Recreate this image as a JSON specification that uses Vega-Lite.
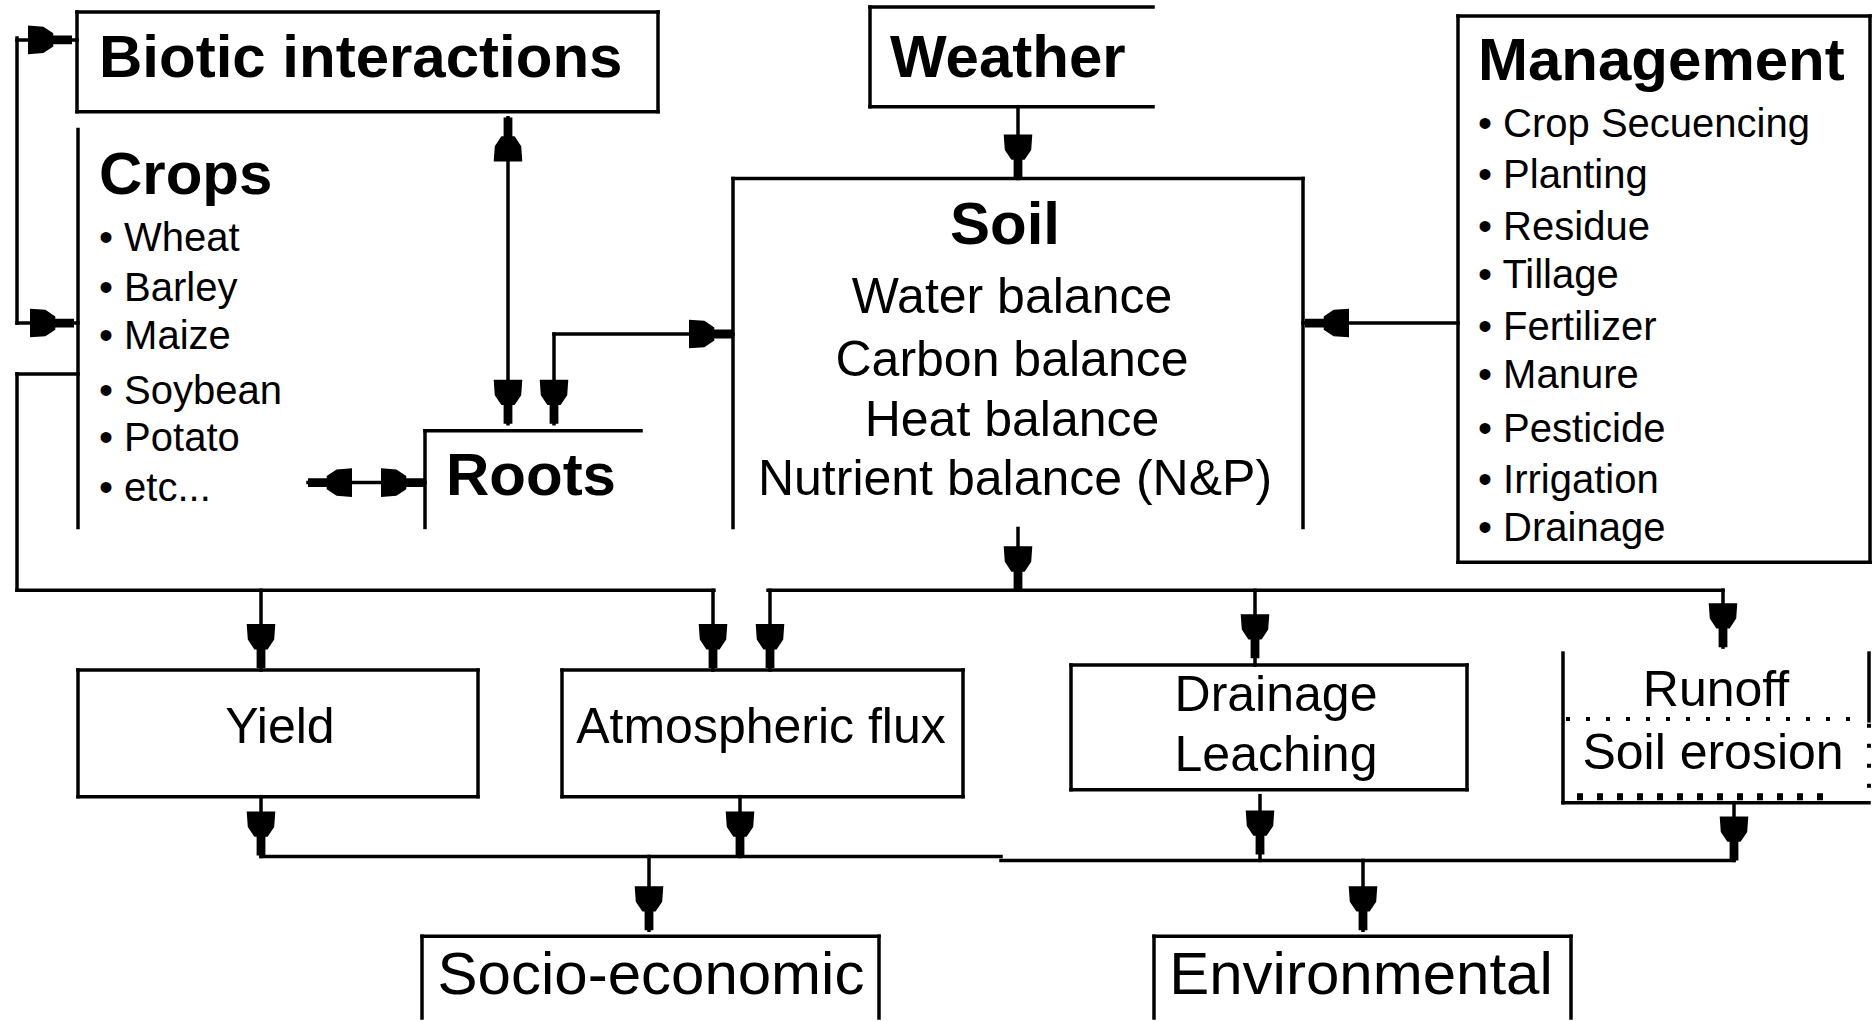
{
  "$schema": "https://vega.github.io/schema/vega-lite/v6.json",
  "width": 1874,
  "height": 1021,
  "padding": 0,
  "autosize": {"type": "fit", "contains": "padding"},
  "background": "white",
  "config": {"view": {"stroke": null}},
  "datasets": {
    "segments": [
      {"x1": 77, "y1": 12, "x2": 658, "y2": 12},
      {"x1": 658, "y1": 12, "x2": 658, "y2": 112},
      {"x1": 77, "y1": 112, "x2": 658, "y2": 112},
      {"x1": 77, "y1": 12, "x2": 77, "y2": 112},
      {"x1": 17, "y1": 38, "x2": 17, "y2": 324},
      {"x1": 17, "y1": 40, "x2": 77, "y2": 40},
      {"x1": 17, "y1": 324, "x2": 78, "y2": 324},
      {"x1": 17, "y1": 375, "x2": 78, "y2": 375},
      {"x1": 17, "y1": 375, "x2": 17, "y2": 592},
      {"x1": 17, "y1": 592, "x2": 714, "y2": 592},
      {"x1": 78, "y1": 130, "x2": 78, "y2": 529},
      {"x1": 508, "y1": 118, "x2": 508, "y2": 425},
      {"x1": 425, "y1": 432, "x2": 641, "y2": 432},
      {"x1": 425, "y1": 432, "x2": 425, "y2": 529},
      {"x1": 308, "y1": 484, "x2": 425, "y2": 484},
      {"x1": 554, "y1": 335, "x2": 733, "y2": 335},
      {"x1": 554, "y1": 335, "x2": 554, "y2": 425},
      {"x1": 870, "y1": 7, "x2": 1153, "y2": 7},
      {"x1": 870, "y1": 7, "x2": 870, "y2": 107},
      {"x1": 870, "y1": 107, "x2": 1153, "y2": 107},
      {"x1": 1018, "y1": 107, "x2": 1018, "y2": 179},
      {"x1": 733, "y1": 179, "x2": 1303, "y2": 179},
      {"x1": 733, "y1": 179, "x2": 733, "y2": 529},
      {"x1": 1303, "y1": 179, "x2": 1303, "y2": 529},
      {"x1": 1458, "y1": 16, "x2": 1870, "y2": 16},
      {"x1": 1870, "y1": 16, "x2": 1870, "y2": 564},
      {"x1": 1458, "y1": 564, "x2": 1870, "y2": 564},
      {"x1": 1458, "y1": 16, "x2": 1458, "y2": 564},
      {"x1": 1303, "y1": 324, "x2": 1458, "y2": 324},
      {"x1": 1018, "y1": 530, "x2": 1018, "y2": 592},
      {"x1": 768, "y1": 592, "x2": 1723, "y2": 592},
      {"x1": 261, "y1": 592, "x2": 261, "y2": 672},
      {"x1": 713, "y1": 592, "x2": 713, "y2": 672},
      {"x1": 770, "y1": 592, "x2": 770, "y2": 672},
      {"x1": 1255, "y1": 592, "x2": 1255, "y2": 667},
      {"x1": 1723, "y1": 592, "x2": 1723, "y2": 649},
      {"x1": 78, "y1": 672, "x2": 478, "y2": 672},
      {"x1": 478, "y1": 672, "x2": 478, "y2": 799},
      {"x1": 78, "y1": 799, "x2": 478, "y2": 799},
      {"x1": 78, "y1": 672, "x2": 78, "y2": 799},
      {"x1": 562, "y1": 672, "x2": 963, "y2": 672},
      {"x1": 963, "y1": 672, "x2": 963, "y2": 799},
      {"x1": 562, "y1": 799, "x2": 963, "y2": 799},
      {"x1": 562, "y1": 672, "x2": 562, "y2": 799},
      {"x1": 1071, "y1": 667, "x2": 1467, "y2": 667},
      {"x1": 1467, "y1": 667, "x2": 1467, "y2": 792},
      {"x1": 1071, "y1": 792, "x2": 1467, "y2": 792},
      {"x1": 1071, "y1": 667, "x2": 1071, "y2": 792},
      {"x1": 1563, "y1": 655, "x2": 1563, "y2": 805},
      {"x1": 1563, "y1": 805, "x2": 1869, "y2": 805},
      {"x1": 1869, "y1": 655, "x2": 1869, "y2": 723},
      {"x1": 261, "y1": 799, "x2": 261, "y2": 859},
      {"x1": 740, "y1": 799, "x2": 740, "y2": 859},
      {"x1": 261, "y1": 859, "x2": 1001, "y2": 859},
      {"x1": 1001, "y1": 863, "x2": 1734, "y2": 863},
      {"x1": 1260, "y1": 798, "x2": 1260, "y2": 863},
      {"x1": 1734, "y1": 805, "x2": 1734, "y2": 863},
      {"x1": 649, "y1": 859, "x2": 649, "y2": 933},
      {"x1": 1363, "y1": 863, "x2": 1363, "y2": 933},
      {"x1": 422, "y1": 939, "x2": 879, "y2": 939},
      {"x1": 422, "y1": 939, "x2": 422, "y2": 1021},
      {"x1": 879, "y1": 939, "x2": 879, "y2": 1021},
      {"x1": 1154, "y1": 939, "x2": 1571, "y2": 939},
      {"x1": 1154, "y1": 939, "x2": 1154, "y2": 1021},
      {"x1": 1571, "y1": 939, "x2": 1571, "y2": 1021}
    ],
    "dotted": [
      {"x1": 1566, "y1": 721, "x2": 1866, "y2": 721},
      {"x1": 1869, "y1": 726, "x2": 1869, "y2": 805}
    ],
    "ticks": [
      {"x1": 1577, "y1": 799, "x2": 1830, "y2": 799}
    ],
    "arrows": [
      {"x": 50, "y": 40, "dir": "right"},
      {"x": 52, "y": 324, "dir": "right"},
      {"x": 508, "y": 140, "dir": "up"},
      {"x": 508, "y": 403, "dir": "down"},
      {"x": 554, "y": 403, "dir": "down"},
      {"x": 711, "y": 335, "dir": "right"},
      {"x": 330, "y": 484, "dir": "left"},
      {"x": 403, "y": 484, "dir": "right"},
      {"x": 1018, "y": 157, "dir": "down"},
      {"x": 1327, "y": 324, "dir": "left"},
      {"x": 1018, "y": 570, "dir": "down"},
      {"x": 261, "y": 648, "dir": "down"},
      {"x": 713, "y": 648, "dir": "down"},
      {"x": 770, "y": 648, "dir": "down"},
      {"x": 1255, "y": 638, "dir": "down"},
      {"x": 1723, "y": 627, "dir": "down"},
      {"x": 261, "y": 836, "dir": "down"},
      {"x": 740, "y": 836, "dir": "down"},
      {"x": 1260, "y": 835, "dir": "down"},
      {"x": 1734, "y": 841, "dir": "down"},
      {"x": 649, "y": 911, "dir": "down"},
      {"x": 1363, "y": 911, "dir": "down"}
    ],
    "titles": [
      {"x": 99, "y": 77, "label": "Biotic interactions"},
      {"x": 99, "y": 195, "label": "Crops"},
      {"x": 890, "y": 77, "label": "Weather"},
      {"x": 1478, "y": 80, "label": "Management"},
      {"x": 950, "y": 245, "label": "Soil"},
      {"x": 446, "y": 496, "label": "Roots"}
    ],
    "items": [
      {"x": 99, "y": 252, "label": "• Wheat"},
      {"x": 99, "y": 302, "label": "• Barley"},
      {"x": 99, "y": 350, "label": "• Maize"},
      {"x": 99, "y": 405, "label": "• Soybean"},
      {"x": 99, "y": 452, "label": "• Potato"},
      {"x": 99, "y": 502, "label": "• etc..."},
      {"x": 1478, "y": 137, "label": "• Crop Secuencing"},
      {"x": 1478, "y": 189, "label": "• Planting"},
      {"x": 1478, "y": 241, "label": "• Residue"},
      {"x": 1478, "y": 289, "label": "• Tillage"},
      {"x": 1478, "y": 341, "label": "• Fertilizer"},
      {"x": 1478, "y": 389, "label": "• Manure"},
      {"x": 1478, "y": 443, "label": "• Pesticide"},
      {"x": 1478, "y": 494, "label": "• Irrigation"},
      {"x": 1478, "y": 543, "label": "• Drainage"}
    ],
    "midlabels": [
      {"x": 1012, "y": 314, "label": "Water balance"},
      {"x": 1012, "y": 377, "label": "Carbon balance"},
      {"x": 1012, "y": 437, "label": "Heat balance"},
      {"x": 1015, "y": 496, "label": "Nutrient balance (N&P)"},
      {"x": 280, "y": 745, "label": "Yield"},
      {"x": 761, "y": 745, "label": "Atmospheric flux"},
      {"x": 1276, "y": 713, "label": "Drainage"},
      {"x": 1276, "y": 773, "label": "Leaching"},
      {"x": 1716, "y": 708, "label": "Runoff"},
      {"x": 1713, "y": 771, "label": "Soil erosion"}
    ],
    "biglabels": [
      {"x": 651, "y": 997, "label": "Socio-economic"},
      {"x": 1361, "y": 997, "label": "Environmental"}
    ]
  },
  "layer": [
    {
      "data": {"name": "segments"},
      "mark": {"type": "rule", "color": "black", "strokeWidth": 3.5, "strokeCap": "square"},
      "encoding": {
        "x": {"field": "x1", "type": "quantitative", "scale": {"domain": [0, 1874], "nice": false, "zero": false}, "axis": null},
        "y": {"field": "y1", "type": "quantitative", "scale": {"domain": [0, 1021], "reverse": true, "nice": false, "zero": false}, "axis": null},
        "x2": {"field": "x2"},
        "y2": {"field": "y2"}
      }
    },
    {
      "data": {"name": "dotted"},
      "mark": {"type": "rule", "color": "black", "strokeWidth": 4, "strokeDash": [4, 16]},
      "encoding": {
        "x": {"field": "x1", "type": "quantitative", "axis": null},
        "y": {"field": "y1", "type": "quantitative", "axis": null},
        "x2": {"field": "x2"},
        "y2": {"field": "y2"}
      }
    },
    {
      "data": {"name": "ticks"},
      "mark": {"type": "rule", "color": "black", "strokeWidth": 7, "strokeDash": [6, 14]},
      "encoding": {
        "x": {"field": "x1", "type": "quantitative", "axis": null},
        "y": {"field": "y1", "type": "quantitative", "axis": null},
        "x2": {"field": "x2"},
        "y2": {"field": "y2"}
      }
    },
    {
      "data": {"name": "arrows"},
      "mark": {"type": "point", "filled": true, "color": "black", "opacity": 1, "size": 1936, "strokeWidth": 0},
      "encoding": {
        "x": {"field": "x", "type": "quantitative", "axis": null},
        "y": {"field": "y", "type": "quantitative", "axis": null},
        "shape": {
          "field": "dir", "type": "nominal", "legend": null,
          "scale": {
            "domain": ["down", "up", "left", "right"],
            "range": [
              "M-0.65,-1L0.65,-1L0.6,-0.3L0.3,0.15L0.2,0.15L0.2,1L-0.2,1L-0.2,0.15L-0.3,0.15L-0.6,-0.3Z",
              "M-0.65,1L0.65,1L0.6,0.3L0.3,-0.15L0.2,-0.15L0.2,-1L-0.2,-1L-0.2,-0.15L-0.3,-0.15L-0.6,0.3Z",
              "M1,-0.65L1,0.65L0.3,0.6L-0.15,0.3L-0.15,0.2L-1,0.2L-1,-0.2L-0.15,-0.2L-0.15,-0.3L0.3,-0.6Z",
              "M-1,-0.65L-1,0.65L-0.3,0.6L0.15,0.3L0.15,0.2L1,0.2L1,-0.2L0.15,-0.2L0.15,-0.3L-0.3,-0.6Z"
            ]
          }
        }
      }
    },
    {
      "data": {"name": "titles"},
      "mark": {"type": "text", "font": "Liberation Sans", "fontWeight": "bold", "fontSize": 60, "align": "left", "baseline": "alphabetic", "color": "black"},
      "encoding": {
        "x": {"field": "x", "type": "quantitative", "axis": null},
        "y": {"field": "y", "type": "quantitative", "axis": null},
        "text": {"field": "label"}
      }
    },
    {
      "data": {"name": "items"},
      "mark": {"type": "text", "font": "Liberation Sans", "fontSize": 40, "align": "left", "baseline": "alphabetic", "color": "black"},
      "encoding": {
        "x": {"field": "x", "type": "quantitative", "axis": null},
        "y": {"field": "y", "type": "quantitative", "axis": null},
        "text": {"field": "label"}
      }
    },
    {
      "data": {"name": "midlabels"},
      "mark": {"type": "text", "font": "Liberation Sans", "fontSize": 50, "align": "center", "baseline": "alphabetic", "color": "black"},
      "encoding": {
        "x": {"field": "x", "type": "quantitative", "axis": null},
        "y": {"field": "y", "type": "quantitative", "axis": null},
        "text": {"field": "label"}
      }
    },
    {
      "data": {"name": "biglabels"},
      "mark": {"type": "text", "font": "Liberation Sans", "fontSize": 60, "align": "center", "baseline": "alphabetic", "color": "black"},
      "encoding": {
        "x": {"field": "x", "type": "quantitative", "axis": null},
        "y": {"field": "y", "type": "quantitative", "axis": null},
        "text": {"field": "label"}
      }
    }
  ]
}
